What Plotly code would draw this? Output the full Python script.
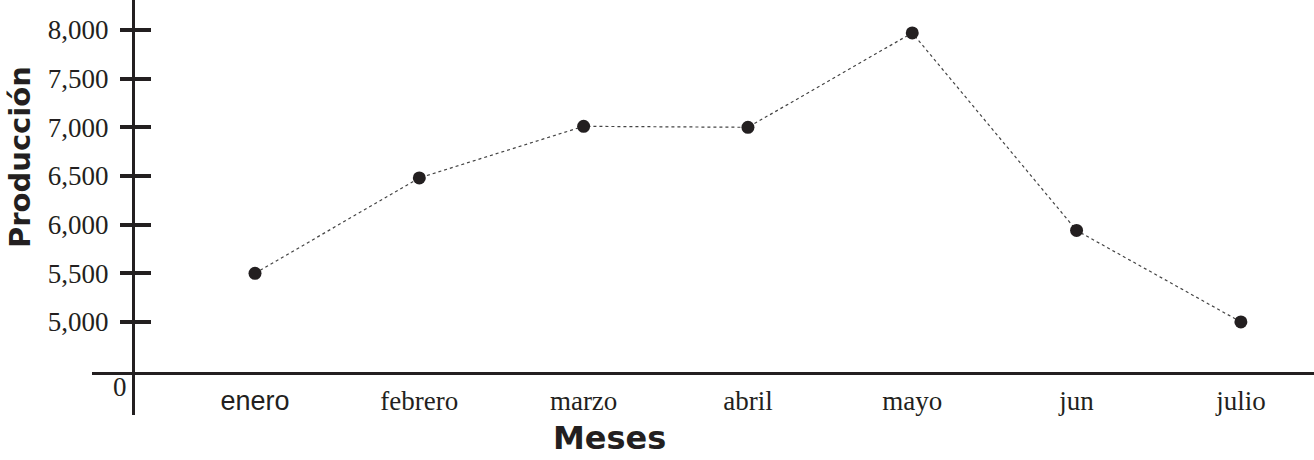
import plotly.graph_objects as go

meses = ["enero", "febrero", "marzo", "abril", "mayo", "jun", "julio"]
produccion = [5500, 6480, 7010, 7000, 7970, 5940, 5000]
y_ticks = [5000, 5500, 6000, 6500, 7000, 7500, 8000]
y_ticktext = ["5,000", "5,500", "6,000", "6,500", "7,000", "7,500", "8,000"]

INK = "#231f20"
W, H = 1314, 460
ML, MB = 92, 45
PW, PH = W - ML, H - MB

Y_RANGE = [4044, 8308]
X_RANGE = [-0.992, 6.445]
yaxis_pos = (133 - ML) / PW
xaxis_pos = (PH - 373) / PH

# the first month label is set in a sans face in the reference
x_ticktext = [
    f"<span style='font-family:Liberation Sans'>{m}</span>" if i == 0 else m
    for i, m in enumerate(meses)
]

fig = go.Figure()
fig.add_trace(go.Scatter(
    x=list(range(len(meses))), y=produccion, mode="lines+markers",
    line=dict(color="#444444", width=1.2, dash="dot"),
    marker=dict(color=INK, size=13),
    showlegend=False, hoverinfo="skip",
))
fig.add_trace(go.Scatter(x=[None], y=[None], yaxis="y2", showlegend=False, hoverinfo="skip"))

serif = "Liberation Serif"
fig.update_layout(
    width=W, height=H,
    margin=dict(l=ML, r=0, t=0, b=MB),
    plot_bgcolor="white", paper_bgcolor="white",
    xaxis=dict(
        range=X_RANGE, anchor="free", position=xaxis_pos,
        showgrid=False, zeroline=False,
        showline=True, linecolor=INK, linewidth=3,
        tickmode="array", tickvals=list(range(len(meses))), ticktext=x_ticktext,
        ticks="", ticklabelstandoff=3,
        tickfont=dict(family=serif, size=27, color=INK),
    ),
    yaxis=dict(
        range=Y_RANGE, anchor="free", position=yaxis_pos,
        showgrid=False, zeroline=False,
        showline=True, linecolor=INK, linewidth=3,
        tickmode="array", tickvals=y_ticks, ticktext=y_ticktext,
        ticks="outside", ticklen=12, tickwidth=4, tickcolor=INK,
        ticklabelstandoff=6,
        tickfont=dict(family=serif, size=27, color=INK),
    ),
    yaxis2=dict(
        range=Y_RANGE, anchor="free", position=yaxis_pos, overlaying="y",
        showgrid=False, zeroline=False, showline=False,
        tickmode="array", tickvals=y_ticks,
        ticks="inside", ticklen=17, tickwidth=4, tickcolor=INK,
        showticklabels=False,
    ),
    annotations=[
        dict(text="Producción", textangle=-90, xref="paper", yref="paper",
             x=(20 - ML) / PW, y=(PH - 157) / PH, showarrow=False,
             font=dict(family="DejaVu Sans", size=29, color=INK, weight="bold"),
             xanchor="center", yanchor="middle"),
        dict(text="Meses", xref="paper", yref="paper",
             x=(609 - ML) / PW, y=(PH - 438) / PH, showarrow=False,
             font=dict(family="DejaVu Sans", size=32, color=INK, weight="bold"),
             xanchor="center", yanchor="middle"),
        dict(text="0", xref="paper", yref="paper",
             x=(120 - ML) / PW, y=(PH - 387) / PH, showarrow=False,
             font=dict(family=serif, size=27, color=INK),
             xanchor="center", yanchor="middle"),
    ],
)

fig.write_html(
    "out.html",
    config={"displayModeBar": False},
    post_script="document.body.style.margin='0';document.body.style.overflow='hidden';",
)
